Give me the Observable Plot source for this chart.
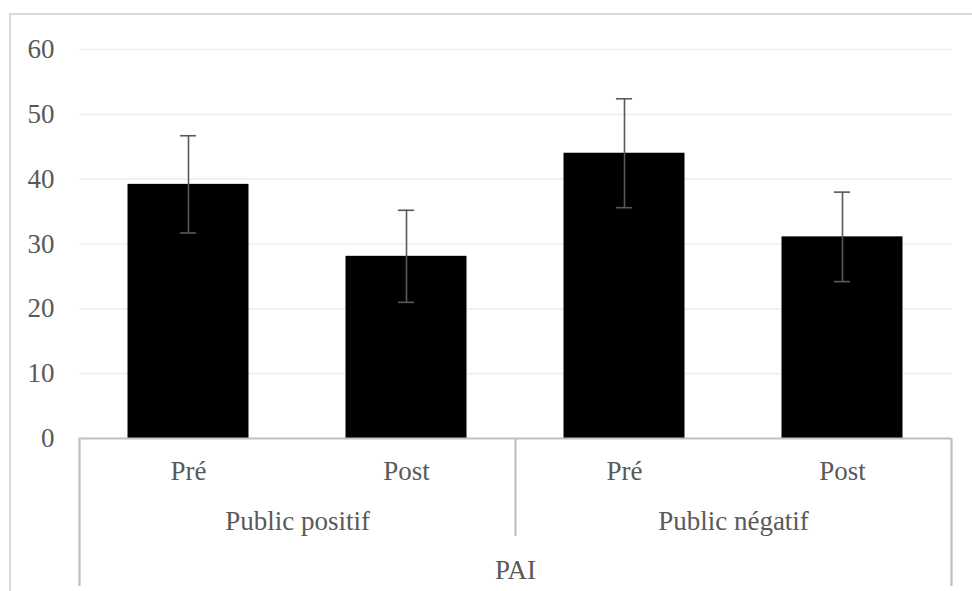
<!DOCTYPE html>
<html>
<head>
<meta charset="utf-8">
<script src="https://cdn.jsdelivr.net/npm/d3@7"></script>
<script src="https://cdn.jsdelivr.net/npm/@observablehq/plot@0.6"></script>
<style>
  html, body { margin: 0; padding: 0; background: #fff; overflow: hidden; }
  #wrap { position: relative; width: 972px; height: 591px; }
  #border { position: absolute; left: 9px; top: 13px; width: 1000px; height: 700px;
            border: 2px solid #d9d9d9; box-sizing: border-box; pointer-events: none; }
</style>
</head>
<body>
<div id="wrap"><div id="border"></div></div>
<script>
// ---- data ----
const groups = ["Public positif", "Public négatif"];
const phases = ["Pré", "Post"];
const means = [39.2, 28.1, 44.0, 31.1];
const errors = [7.5, 7.1, 8.4, 6.9];
const overallLabel = "PAI";
const yTicks = [0, 10, 20, 30, 40, 50, 60];

// table built from the arrays
const rows = [];
groups.forEach((g, gi) => phases.forEach((p, pi) => {
  const i = gi * phases.length + pi;
  rows.push({i, group: g, phase: p, mean: means[i], err: errors[i]});
}));
const groupRows = groups.map((g, gi) => ({group: g, center: gi * phases.length + phases.length / 2}));
const nCats = rows.length;
const pad = 0.2225;     // half of the inner gap between bars (in band units)
const cap = 0.037;      // half width of error caps (in band units)
const axisGray = "#bfbfbf";
const textGray = "#595959";

const chart = Plot.plot({
  width: 972,
  height: 591,
  marginLeft: 79,
  marginRight: 21,
  marginTop: 49,
  marginBottom: 153,
  style: {fontFamily: "'Liberation Serif', 'Times New Roman', serif", fontSize: "27px", background: "transparent", overflow: "visible"},
  x: {type: "linear", domain: [0, nCats], axis: null, label: null},
  y: {domain: [0, 60], axis: null, label: null},
  marks: [
    Plot.ruleY(yTicks.filter(d => d > 0), {stroke: "#efefef", strokeWidth: 1.6}),
    Plot.axisY({ticks: yTicks, tickSize: 0, tickPadding: 25, color: textGray, fontSize: 27, label: null}),
    Plot.rectY(rows, {x1: d => d.i + pad, x2: d => d.i + 1 - pad, y1: 0, y2: "mean", fill: "#000"}),
    Plot.ruleX(rows, {x: d => d.i + 0.5, y1: d => d.mean - d.err, y2: d => d.mean + d.err, stroke: textGray, strokeWidth: 1.6}),
    Plot.ruleY(rows, {y: d => d.mean + d.err, x1: d => d.i + 0.5 - cap, x2: d => d.i + 0.5 + cap, stroke: textGray, strokeWidth: 1.6}),
    Plot.ruleY(rows, {y: d => d.mean - d.err, x1: d => d.i + 0.5 - cap, x2: d => d.i + 0.5 + cap, stroke: textGray, strokeWidth: 1.6}),
    // category table lines
    Plot.ruleY([0], {stroke: axisGray, strokeWidth: 2.2}),
    Plot.ruleX([0, nCats], {y1: 0, y2: 0, insetBottom: -148, stroke: axisGray, strokeWidth: 2.2}),
    Plot.ruleX(d3.range(phases.length, nCats, phases.length), {y1: 0, y2: 0, insetBottom: -98, stroke: axisGray, strokeWidth: 2.2}),
    // labels
    Plot.text(rows, {x: d => d.i + 0.5, text: "phase", frameAnchor: "bottom", lineAnchor: "bottom", dy: 41, fill: textGray, fontSize: 27}),
    Plot.text(groupRows, {x: "center", text: "group", frameAnchor: "bottom", lineAnchor: "bottom", dy: 91, fill: textGray, fontSize: 27}),
    Plot.text([overallLabel], {x: nCats / 2, text: d => d, frameAnchor: "bottom", lineAnchor: "bottom", dy: 140, fill: textGray, fontSize: 27})
  ]
});
document.getElementById("wrap").prepend(chart);
</script>
</body>
</html>
